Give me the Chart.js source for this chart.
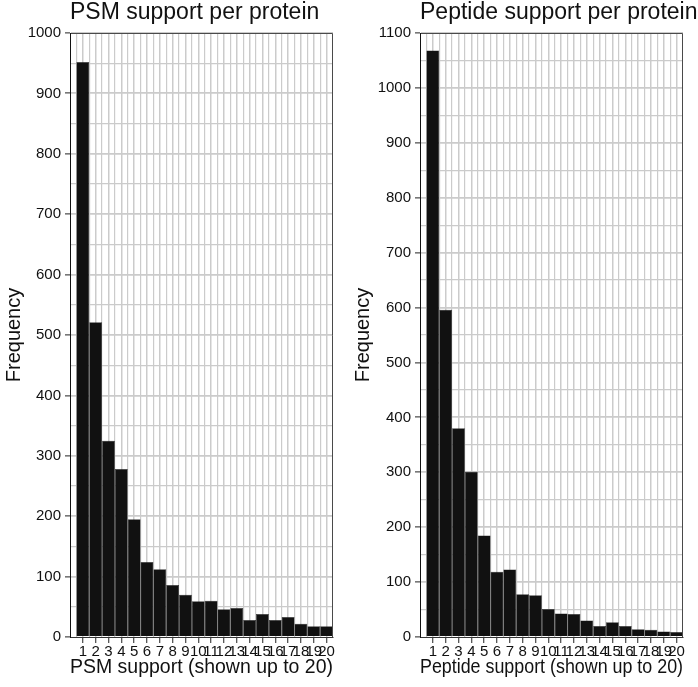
<!DOCTYPE html>
<html>
<head>
<meta charset="utf-8">
<script src="https://cdn.jsdelivr.net/npm/chart.js@4/dist/chart.umd.min.js"></script>
<style>
  html, body { margin: 0; padding: 0; background: #ffffff; }
  #wrap { position: relative; width: 698px; height: 687px; }
  .panel { position: absolute; top: 0; height: 687px; }
</style>
</head>
<body>
<div id="wrap">
  <div class="panel" style="left:0;width:349px"><canvas id="c1" width="349" height="687"></canvas></div>
  <div class="panel" style="left:349px;width:349px"><canvas id="c2" width="349" height="687"></canvas></div>
</div>
<script>
// ---- data ----
const categories = [1,2,3,4,5,6,7,8,9,10,11,12,13,14,15,16,17,18,19,20];
const xTickLabels = ['1','2','3','4','5','6','7','8','9','10','11','12','13','14','15','16','17','18','19','20'];
const psmCounts = [952,521,325,278,195,124,112,86,70,59,60,46,48,28,38,28,33,22,18,18];
const peptideCounts = [1068,596,380,301,185,119,123,78,76,51,43,42,30,20,27,20,14,13,10,9];
const psmYTicks = [0,100,200,300,400,500,600,700,800,900,1000];
const peptideYTicks = [0,100,200,300,400,500,600,700,800,900,1000,1100];
const psmTitle = 'PSM support per protein';
const peptideTitle = 'Peptide support per protein';
const psmXLabel = 'PSM support (shown up to 20)';
const peptideXLabel = 'Peptide support (shown up to 20)';
const yLabel = 'Frequency';

const FONT = '"Liberation Sans", Arial, Helvetica, sans-serif';
const GRID = '#cbcbcb';

const framePlugin = {
  id: 'frame',
  afterDatasetsDraw(chart) {
    const a = chart.chartArea, ctx = chart.ctx;
    ctx.save();
    ctx.strokeStyle = '#4a4a4a';
    ctx.lineWidth = 1;
    ctx.beginPath();
    ctx.moveTo(a.left, a.top + 0.5);
    ctx.lineTo(a.right - 0.5, a.top + 0.5);
    ctx.lineTo(a.right - 0.5, a.bottom);
    ctx.stroke();
    ctx.strokeStyle = '#111';
    ctx.beginPath();
    ctx.moveTo(a.left + 0.5, a.top);
    ctx.lineTo(a.left + 0.5, a.bottom);
    ctx.stroke();
    ctx.restore();
  },
  afterDraw(chart) {
    const a = chart.chartArea, ctx = chart.ctx;
    const t = chart.options.plugins.leftTitle.text;
    ctx.save();
    ctx.fillStyle = '#111';
    ctx.font = '23px ' + FONT;
    ctx.textAlign = 'left';
    ctx.textBaseline = 'middle';
    ctx.fillText(t, a.left, 13);
    ctx.restore();
  }
};

function makeChart(id, counts, yTicks, title, xLabel, yWidth, rightPad) {
  const yMax = yTicks[yTicks.length - 1];
  const isMajorY = v => yTicks.includes(v);
  const isMajorX = v => categories.includes(v);
  return new Chart(document.getElementById(id), {
    type: 'bar',
    data: {
      datasets: [{
        data: categories.map((c, i) => ({x: c, y: counts[i]})),
        backgroundColor: '#111111',
        borderColor: '#262626',
        borderWidth: 0.5,
        // ticks every half unit make the ruler's min spacing half a bin, so a full bin = 2x
        barPercentage: 2.0,
        categoryPercentage: 1.0
      }]
    },
    plugins: [framePlugin],
    options: {
      responsive: false,
      animation: false,
      devicePixelRatio: 1,
      layout: { padding: { top: 33, right: rightPad, bottom: 0, left: 0 } },
      plugins: {
        legend: { display: false },
        tooltip: { enabled: false },
        title: { display: false },
        leftTitle: { text: title }
      },
      scales: {
        x: {
          type: 'linear',
          min: 0,
          max: 20.5,
          offset: false,
          grid: {
            offset: false,
            color: ctx => (ctx.tick && (ctx.tick.value === 0 || ctx.tick.value === 20.5)) ? 'rgba(0,0,0,0)' : GRID,
            lineWidth: ctx => (ctx.tick && Number.isInteger(ctx.tick.value)) ? 1.5 : 1.2,
            drawTicks: true,
            tickLength: 6,
            tickWidth: 1,
            tickColor: ctx => (ctx.tick && isMajorX(ctx.tick.value)) ? '#222' : 'rgba(0,0,0,0)'
          },
          border: { display: true, color: '#333', width: 1 },
          ticks: {
            stepSize: 0.5,
            autoSkip: false,
            maxRotation: 0,
            minRotation: 0,
            padding: 0,
            color: '#111',
            font: { family: FONT, size: 15 },
            callback: v => { const i = categories.indexOf(v); return i >= 0 ? xTickLabels[i] : ''; }
          },
          title: {
            display: true,
            text: xLabel,
            color: '#111',
            font: { family: FONT, size: 19.5 },
            padding: { top: 0, bottom: 8 }
          },
          afterFit: s => { s.height = 50; }
        },
        y: {
          min: 0,
          max: yMax,
          grid: {
            color: ctx => (ctx.tick && ctx.tick.value === 0) ? 'rgba(0,0,0,0)' : GRID,
            lineWidth: ctx => (ctx.tick && isMajorY(ctx.tick.value)) ? 1.8 : 1.2,
            drawTicks: true,
            tickLength: 5,
            tickWidth: 1,
            tickColor: ctx => (ctx.tick && isMajorY(ctx.tick.value)) ? '#222' : 'rgba(0,0,0,0)'
          },
          border: { display: true, color: '#111', width: 1 },
          ticks: {
            stepSize: 50,
            autoSkip: false,
            padding: 4,
            color: '#111',
            font: { family: FONT, size: 15 },
            callback: v => isMajorY(v) ? String(v) : ''
          },
          title: {
            display: true,
            text: yLabel,
            color: '#111',
            font: { family: FONT, size: 20 },
            padding: { top: 2, bottom: 0 }
          },
          afterFit: s => { s.width = yWidth; }
        }
      }
    }
  });
}

makeChart('c1', psmCounts, psmYTicks, psmTitle, psmXLabel, 70, 16);
makeChart('c2', peptideCounts, peptideYTicks, peptideTitle, peptideXLabel, 71, 15);
</script>
</body>
</html>
